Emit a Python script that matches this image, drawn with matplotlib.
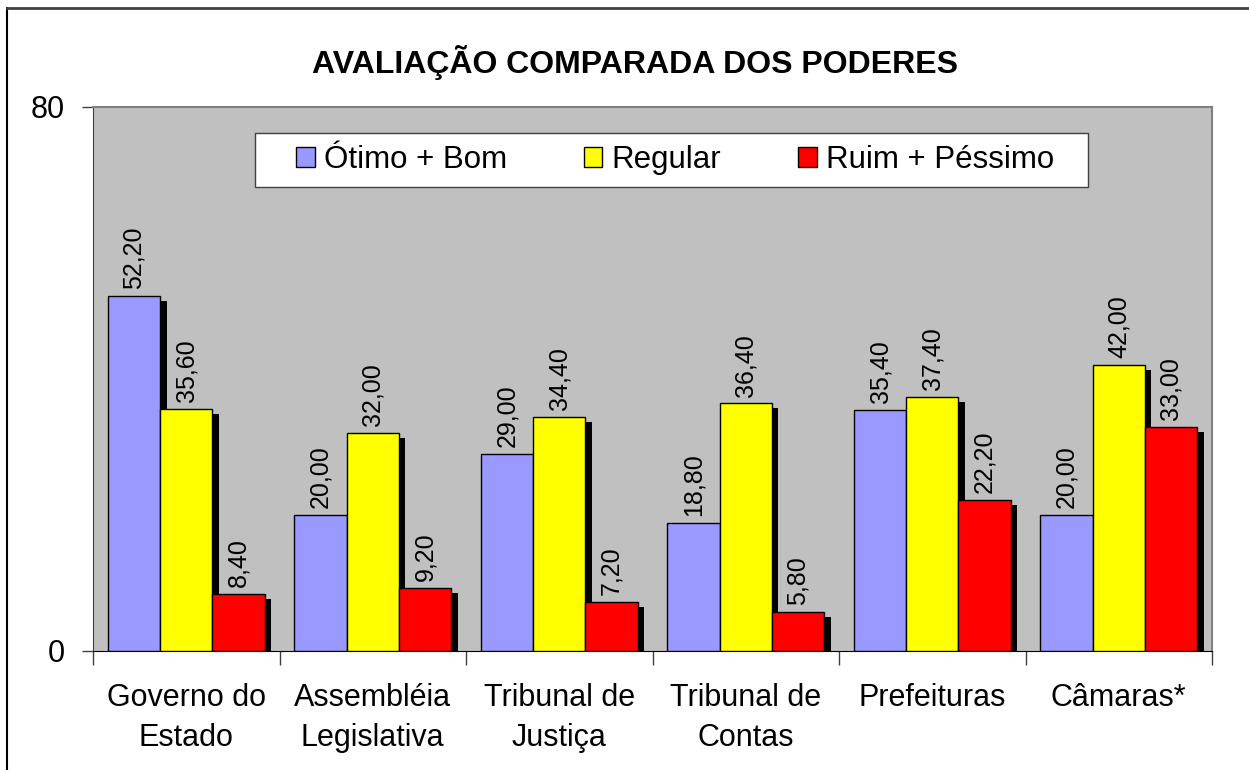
import matplotlib
matplotlib.use("Agg")
import matplotlib.pyplot as plt
from matplotlib.patches import Rectangle
from matplotlib.lines import Line2D
import matplotlib.transforms as mtransforms

plt.rcParams['font.family'] = ['Liberation Sans', 'DejaVu Sans']

categories = ["Governo do\nEstado", "Assembléia\nLegislativa", "Tribunal de\nJustiça",
              "Tribunal de\nContas", "Prefeituras", "Câmaras*"]
series_names = ["Ótimo + Bom", "Regular", "Ruim + Péssimo"]
otimo_bom = [52.20, 20.00, 29.00, 18.80, 35.40, 20.00]
regular = [35.60, 32.00, 34.40, 36.40, 37.40, 42.00]
ruim_pessimo = [8.40, 9.20, 7.20, 5.80, 22.20, 33.00]
colors = ["#9999FF", "#FFFF00", "#FF0000"]
title = "AVALIAÇÃO COMPARADA DOS PODERES"

fig = plt.figure(figsize=(12.49, 7.70), dpi=100)
ax = fig.add_axes([93/1249, 1 - 651/770, (1212-93)/1249, (651-107)/770])
ax.set_facecolor("#C0C0C0")

width = 0.28
offsets = [-width, 0, width]
series = [otimo_bom, regular, ruim_pessimo]
shadow = mtransforms.offset_copy(ax.transData, fig=fig, x=6.5, y=-5, units='dots')

for s, (vals, off, col) in enumerate(zip(series, offsets, colors)):
    xs = [i + off for i in range(len(categories))]
    ax.bar(xs, vals, width=width, color="black", edgecolor="black",
           linewidth=0, transform=shadow, zorder=2, clip_on=True)
    ax.bar(xs, vals, width=width, color=col, edgecolor="black",
           linewidth=1.0, zorder=3)
    for x, v in zip(xs, vals):
        ax.annotate(f"{v:.2f}".replace(".", ","), (x, v), xytext=(0, 5),
                    textcoords="offset points", rotation=90, ha="center",
                    va="bottom", fontsize=18, zorder=4)

ax.set_xlim(-0.5, len(categories) - 0.5)
ax.set_ylim(0, 80)
ax.set_yticks([0, 80])
ax.set_yticklabels(["0", "80"], fontsize=22)
ax.tick_params(axis='y', length=8, width=1, pad=12, color="#404040")
ax.set_xticks([i - 0.5 for i in range(len(categories) + 1)], minor=False)
ax.set_xticklabels([])
ax.tick_params(axis='x', length=10, width=1, color="#404040")
ax.set_xticks(range(len(categories)), minor=True)
ax.set_xticklabels(categories, minor=True, fontsize=22, linespacing=1.45)
ax.tick_params(axis='x', which='minor', length=0, pad=23)

for sp in ["top", "right"]:
    ax.spines[sp].set_color("#808080")
    ax.spines[sp].set_linewidth(1.5)
ax.spines["left"].set_color("#404040")
ax.spines["bottom"].set_color("black")

# legend frame drawn separately (in pixel-derived axes fractions)
ax_w, ax_h = 1212 - 93, 651 - 107
frame = Rectangle(((255 - 93) / ax_w, (651 - 187) / ax_h), (1088 - 255) / ax_w, 54 / ax_h,
                  transform=ax.transAxes, facecolor="white", edgecolor="#404040",
                  linewidth=1, zorder=5)
ax.add_patch(frame)

handles = [Rectangle((0, 0), 1, 1, facecolor=c, edgecolor="black", linewidth=1) for c in colors]
leg = ax.legend(handles, series_names, loc="center",
                bbox_to_anchor=((675-93)/1119, (651-160)/544),
                ncol=3, fontsize=22.5, frameon=False,
                handlelength=0.6, handleheight=0.6,
                handletextpad=0.3, columnspacing=2.45, borderaxespad=0, borderpad=0.35,
                labelspacing=0)
leg.set_zorder(6)

fig.text(635/1249, 1 - 62/770, title, ha="center", va="center", fontsize=23,
         fontweight="bold")

fig.add_artist(Line2D([7/1249, 7/1249], [0, 1 - 8/770], color="black", linewidth=1.5,
                      transform=fig.transFigure))
fig.add_artist(Line2D([7/1249, 1], [1 - 8/770, 1 - 8/770], color="#404040", linewidth=2,
                      transform=fig.transFigure))

fig.savefig("out.png", dpi=100)
